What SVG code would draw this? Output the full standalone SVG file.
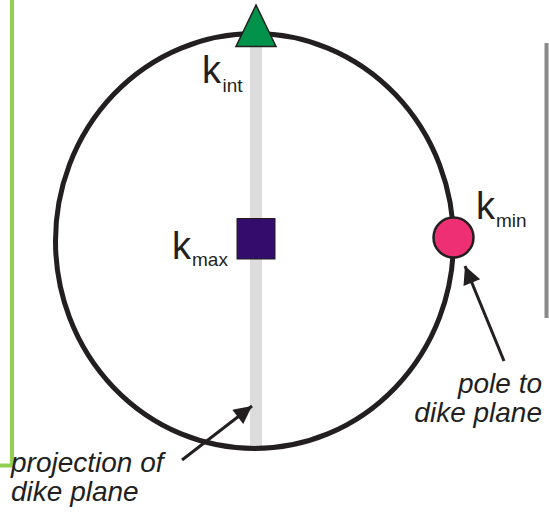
<svg xmlns="http://www.w3.org/2000/svg" width="549" height="512" viewBox="0 0 549 512">
<style>
.lbl{font-family:"Liberation Sans",Arial,sans-serif;fill:#231f20}
.big{font-size:38px}
.sub{font-size:19px}
.it{font-family:"Liberation Sans",Arial,sans-serif;font-style:italic;font-size:28px;fill:#231f20}
.conn{stroke:#231f20;stroke-width:3;fill:none}
</style>
<defs>
<marker id="ah" viewBox="0 0 10 10" refX="10" refY="5" markerWidth="7" markerHeight="6" markerUnits="strokeWidth" orient="auto">
<path d="M0,0 L10,5 L0,10 Z" fill="#231f20"/>
</marker>
</defs>
<rect width="549" height="512" fill="#ffffff"/>
<g id="frame">
<polyline points="12,0 12,465.5 0,465.5" fill="none" stroke="#92d050" stroke-width="4"/>
<line x1="546.5" y1="43" x2="546.5" y2="318" stroke="#8a8a8a" stroke-width="4"/>
</g>
<g id="net">
<rect x="250" y="45" width="12" height="403" fill="#dcdcdc"/>
<ellipse cx="254.5" cy="241" rx="199" ry="207.5" fill="none" stroke="#231f20" stroke-width="5"/>
</g>
<g id="kint">
<polygon points="256,5 236,46.5 276,46.5" fill="#00924a" stroke="#231f20" stroke-width="1.5"/>
<text class="lbl big" x="202" y="83">k</text>
<text class="lbl sub" x="222.5" y="92">int</text>
</g>
<g id="kmax">
<rect x="237" y="218.5" width="38" height="40.5" fill="#330c6c" stroke="#231f20" stroke-width="1"/>
<text class="lbl big" x="172" y="259">k</text>
<text class="lbl sub" x="192" y="266">max</text>
</g>
<g id="kmin">
<circle cx="453.5" cy="237.5" r="20" fill="#ee2f74" stroke="#231f20" stroke-width="2.5"/>
<text class="lbl big" x="476" y="219">k</text>
<text class="lbl sub" x="496" y="227">min</text>
</g>
<g id="connectors">
<line class="conn" x1="182" y1="460" x2="252" y2="406" marker-end="url(#ah)"/>
<line class="conn" x1="504" y1="361" x2="465" y2="266" marker-end="url(#ah)"/>
</g>
<g id="labels">
<text class="it" x="11" y="472">projection of</text>
<text class="it" x="11" y="501">dike plane</text>
<text class="it" x="542" y="393" text-anchor="end">pole to</text>
<text class="it" x="542" y="422" text-anchor="end">dike plane</text>
</g>
</svg>
